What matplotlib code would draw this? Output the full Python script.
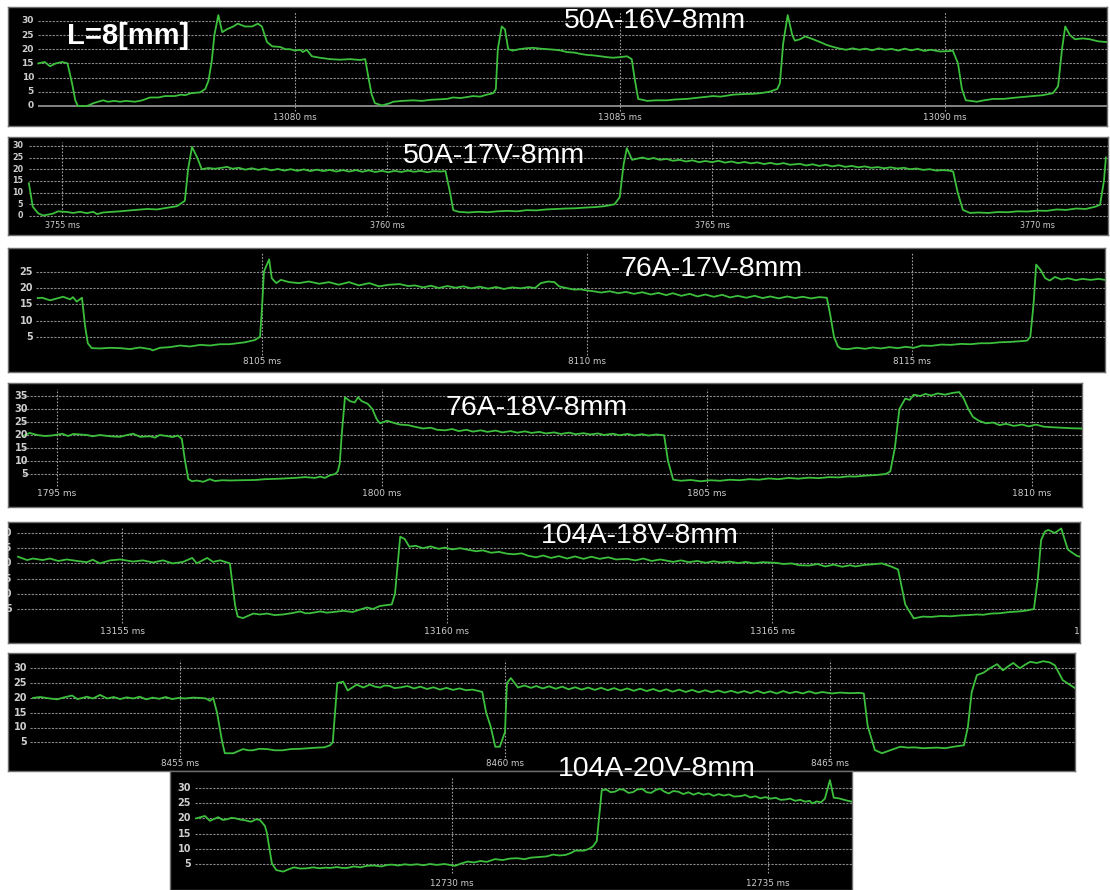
import matplotlib
matplotlib.use('Agg')
import matplotlib.pyplot as plt

# ---------------- data ----------------
P1_T = [13076.05, 13076.15, 13076.23, 13076.32, 13076.42, 13076.50, 13076.57, 13076.62, 13076.66, 13076.80,
        13076.90, 13076.97, 13077.05, 13077.12, 13077.22, 13077.31, 13077.40, 13077.54, 13077.65, 13077.77,
        13077.90, 13078.00, 13078.15, 13078.25, 13078.31, 13078.40, 13078.54, 13078.62, 13078.67, 13078.72,
        13078.76, 13078.82, 13078.88, 13078.95, 13079.05, 13079.12, 13079.23, 13079.34, 13079.43, 13079.49,
        13079.57, 13079.65, 13079.77, 13079.85, 13079.92, 13080.00, 13080.08, 13080.12, 13080.18, 13080.26,
        13080.38, 13080.54, 13080.69, 13080.85, 13081.00, 13081.08, 13081.13, 13081.18, 13081.23, 13081.34,
        13081.46, 13081.51, 13081.65, 13081.82, 13081.95, 13082.10, 13082.34, 13082.43, 13082.55, 13082.74,
        13082.85, 13082.95, 13083.05, 13083.09, 13083.12, 13083.18, 13083.23, 13083.28, 13083.35, 13083.45,
        13083.55, 13083.66, 13083.77, 13083.88, 13084.00, 13084.10, 13084.18, 13084.30, 13084.40, 13084.49,
        13084.60, 13084.70, 13084.80, 13084.89, 13085.00, 13085.11, 13085.18, 13085.23, 13085.28, 13085.42,
        13085.55, 13085.72, 13085.85, 13086.03, 13086.23, 13086.43, 13086.55, 13086.74, 13086.90, 13087.05,
        13087.15, 13087.30, 13087.42, 13087.46, 13087.51, 13087.58, 13087.65, 13087.69, 13087.77, 13087.85,
        13087.97, 13088.08, 13088.18, 13088.28, 13088.38, 13088.48, 13088.58, 13088.68, 13088.78, 13088.88,
        13088.98, 13089.08, 13089.18, 13089.28, 13089.38, 13089.48, 13089.58, 13089.68, 13089.78, 13089.92,
        13090.05, 13090.12, 13090.20, 13090.26, 13090.32, 13090.40, 13090.49, 13090.60, 13090.74, 13090.90,
        13091.11, 13091.35, 13091.50, 13091.66, 13091.74, 13091.80, 13091.85, 13091.92, 13092.00, 13092.12,
        13092.23, 13092.35, 13092.49]
P1_V = [15.0, 15.5, 14.0, 15.0, 15.5, 15.0, 8.0, 2.0, 0.0, 0.0,
        1.0, 1.5, 2.0, 1.5, 1.8, 1.5, 1.8, 1.5, 2.0, 3.0,
        3.0, 3.5, 3.5, 4.0, 3.8, 4.5, 4.8, 6.0, 9.0, 16.0,
        25.0, 32.0, 26.0, 27.0, 28.0, 29.0, 28.0, 28.0, 29.0, 28.0,
        22.5, 21.0, 20.8, 20.0, 20.0, 19.5, 19.8, 19.0, 19.8, 17.5,
        17.0, 16.5, 16.3, 16.5, 16.2, 16.5, 10.0, 4.0, 1.0, 0.2,
        1.0, 1.5, 1.8, 2.0, 1.8, 2.2, 2.5, 3.0, 2.8, 3.5,
        3.3, 4.0, 4.5, 6.0, 20.0, 28.0, 27.0, 20.0, 19.5, 20.0,
        20.3, 20.5, 20.2, 20.0, 19.8, 19.5, 19.0, 18.8, 18.3, 18.0,
        17.8, 17.5, 17.2, 17.0, 17.2, 17.5, 16.5, 9.0, 2.5, 1.8,
        2.0, 2.0, 2.3, 2.5, 3.0, 3.5, 3.3, 4.0, 4.2, 4.3,
        4.5, 5.0, 6.0, 8.0, 22.0, 32.0, 25.0, 23.0, 23.5, 24.5,
        23.5, 22.5, 21.5, 20.8, 20.2, 19.8, 20.3, 19.8, 20.2, 19.6,
        20.3, 19.8, 20.1, 19.5, 20.2, 19.6, 20.1, 19.4, 19.8, 19.2,
        19.3, 19.5, 15.0, 6.0, 2.0, 1.8, 1.5, 2.0, 2.5, 2.5,
        3.0, 3.5, 3.8, 4.5, 7.0, 20.0, 28.0, 25.0, 23.5, 23.8,
        23.5, 22.8, 22.5]

P2_T = [3754.49, 3754.55, 3754.63, 3754.71, 3754.86, 3754.94, 3755.08, 3755.17, 3755.28, 3755.38,
        3755.48, 3755.54, 3755.63, 3755.89, 3756.09, 3756.31, 3756.46, 3756.62, 3756.77, 3756.89,
        3756.94, 3757.00, 3757.08, 3757.15, 3757.25, 3757.35, 3757.43, 3757.54, 3757.62, 3757.72,
        3757.82, 3757.92, 3758.02, 3758.12, 3758.22, 3758.32, 3758.42, 3758.52, 3758.62, 3758.72,
        3758.82, 3758.92, 3759.02, 3759.12, 3759.22, 3759.32, 3759.42, 3759.52, 3759.62, 3759.72,
        3759.82, 3759.92, 3760.02, 3760.12, 3760.22, 3760.32, 3760.42, 3760.52, 3760.62, 3760.72,
        3760.82, 3760.90, 3760.97, 3761.02, 3761.10, 3761.25, 3761.40, 3761.55, 3761.70, 3761.85,
        3762.00, 3762.15, 3762.30, 3762.45, 3762.60, 3762.75, 3762.90, 3763.05, 3763.20, 3763.35,
        3763.50, 3763.58, 3763.64, 3763.69, 3763.77, 3763.85, 3763.93, 3764.02, 3764.10, 3764.20,
        3764.30, 3764.40, 3764.50, 3764.60, 3764.70, 3764.80, 3764.90, 3765.00, 3765.10, 3765.20,
        3765.30, 3765.40, 3765.50, 3765.60, 3765.70, 3765.80, 3765.90, 3766.00, 3766.10, 3766.20,
        3766.35, 3766.45, 3766.55, 3766.65, 3766.75, 3766.85, 3766.95, 3767.05, 3767.15, 3767.25,
        3767.35, 3767.45, 3767.55, 3767.65, 3767.75, 3767.85, 3767.95, 3768.05, 3768.15, 3768.25,
        3768.35, 3768.45, 3768.55, 3768.65, 3768.71, 3768.78, 3768.86, 3768.97, 3769.10, 3769.25,
        3769.40, 3769.55, 3769.70, 3769.85, 3770.00, 3770.15, 3770.30, 3770.45, 3770.60, 3770.75,
        3770.90, 3770.97, 3771.03, 3771.06]
P2_V = [14.0, 4.0, 1.2, 0.2, 1.0, 2.0, 1.7, 1.3, 1.8, 1.2,
        1.8, 0.8, 1.5, 2.0, 2.5, 3.0, 2.8, 3.5, 4.2, 6.5,
        20.0, 29.5, 25.0, 20.0, 20.5, 20.2, 20.5, 21.0, 20.2, 20.6,
        19.8, 20.4, 19.7, 20.3, 19.5, 20.1, 19.4, 20.0, 19.3, 19.9,
        19.2, 19.8, 19.2, 19.7, 19.0, 19.6, 19.0, 19.6, 18.9, 19.5,
        18.8, 19.3, 18.7, 19.3, 18.8, 19.4, 18.9, 19.3, 18.7, 19.2,
        19.0, 19.2, 10.0, 2.5, 1.8, 1.5, 1.8, 1.6, 2.0, 2.2,
        2.0, 2.5, 2.4, 2.8, 3.0, 3.2, 3.3, 3.6, 3.8, 4.2,
        5.0, 8.0, 22.0, 29.0, 24.0, 24.5, 25.0, 24.3, 24.8, 24.0,
        24.4, 23.6, 24.0, 23.3, 23.8, 23.0, 23.5, 23.0, 23.6, 22.8,
        23.3, 22.6, 23.1, 22.5, 22.9, 22.2, 22.7, 22.1, 22.6, 21.9,
        22.3, 21.6, 22.1, 21.4, 21.9, 21.2, 21.7, 21.0, 21.4, 20.8,
        21.2, 20.6, 20.9, 20.4, 20.8, 20.3, 20.6, 20.0, 20.3, 19.7,
        20.0, 19.4, 19.6, 19.4, 19.0, 10.0, 2.6, 1.3, 1.5, 1.3,
        1.7, 1.6, 2.0, 1.9, 2.3, 2.2, 2.8, 2.6, 3.2, 3.0,
        4.0, 4.8, 15.0, 25.0]

P3_T = [8101.55, 8101.62, 8101.74, 8101.89, 8101.94, 8102.05, 8102.09, 8102.15, 8102.23, 8102.28,
        8102.32, 8102.38, 8102.51, 8102.66, 8102.82, 8102.97, 8103.12, 8103.28, 8103.32, 8103.43,
        8103.58, 8103.74, 8103.89, 8104.05, 8104.20, 8104.35, 8104.50, 8104.58, 8104.74, 8104.89,
        8104.97, 8105.00, 8105.03, 8105.06, 8105.11, 8105.15, 8105.22, 8105.29, 8105.42, 8105.57,
        8105.72, 8105.88, 8106.03, 8106.18, 8106.34, 8106.49, 8106.65, 8106.80, 8106.95, 8107.12,
        8107.25, 8107.35, 8107.48, 8107.60, 8107.72, 8107.85, 8107.98, 8108.10, 8108.22, 8108.35,
        8108.48, 8108.60, 8108.72, 8108.85, 8108.98, 8109.10, 8109.20, 8109.29, 8109.40, 8109.50,
        8109.57, 8109.68, 8109.80, 8109.90, 8109.98, 8110.10, 8110.22, 8110.35, 8110.48, 8110.60,
        8110.72, 8110.85, 8110.98, 8111.10, 8111.22, 8111.32, 8111.45, 8111.58, 8111.70, 8111.82,
        8111.95, 8112.08, 8112.20, 8112.32, 8112.45, 8112.58, 8112.70, 8112.82, 8112.95, 8113.08,
        8113.20, 8113.32, 8113.45, 8113.57, 8113.69, 8113.74, 8113.80, 8113.86, 8113.91, 8114.02,
        8114.15, 8114.28, 8114.40, 8114.52, 8114.65, 8114.78, 8114.90, 8115.03, 8115.15, 8115.30,
        8115.45, 8115.60, 8115.75, 8115.90, 8116.05, 8116.20, 8116.35, 8116.50, 8116.65, 8116.77,
        8116.82, 8116.87, 8116.91, 8116.98, 8117.05, 8117.12, 8117.20, 8117.30, 8117.40, 8117.52,
        8117.62, 8117.75, 8117.87, 8117.97]
P3_V = [16.9, 17.0, 16.2, 17.0, 17.3, 16.5, 17.2, 15.8, 17.0, 8.0,
        3.0, 1.5, 1.4, 1.6, 1.5, 1.2, 1.7, 1.2, 0.8, 1.6,
        1.8, 2.3, 2.0, 2.5, 2.3, 2.7, 2.7, 2.9, 3.3, 4.0,
        5.0, 14.0, 25.0, 26.5, 28.8, 23.0, 21.5, 22.5, 21.8, 21.5,
        22.0, 21.3, 21.8, 21.0, 21.8, 20.8, 21.5, 20.5, 21.0, 21.2,
        20.6, 20.8, 20.2, 20.7, 20.0, 20.6, 20.1, 20.5, 19.9, 20.4,
        19.8, 20.3, 19.7, 20.2, 19.9, 20.3, 20.0, 21.5, 22.0, 21.8,
        20.5, 20.0, 19.5, 19.6, 19.3, 19.0, 18.6, 19.0, 18.4, 18.8,
        18.2, 18.7, 18.0, 18.5, 17.8, 18.4, 17.6, 18.2, 17.4, 18.0,
        17.3, 17.9, 17.1, 17.6, 17.0, 17.6, 16.9, 17.4, 16.8, 17.4,
        16.9, 17.3, 16.8, 17.2, 17.0, 12.0, 5.0, 2.0, 1.3, 1.2,
        1.6, 1.3, 1.7, 1.4, 1.8, 1.5, 1.9, 1.6, 2.3, 2.2,
        2.6, 2.5, 2.8, 2.7, 3.0, 3.0, 3.3, 3.4, 3.6, 3.8,
        5.0, 15.0, 27.2, 25.5, 23.0, 22.3, 23.4, 22.6, 23.0, 22.4,
        22.8, 22.5, 22.8, 22.5]

P4_T = [1794.48, 1794.58, 1794.69, 1794.82, 1794.92, 1795.02, 1795.08, 1795.17, 1795.25, 1795.35,
        1795.46, 1795.55, 1795.66, 1795.82, 1795.97, 1796.08, 1796.17, 1796.28, 1796.43, 1796.51,
        1796.58, 1796.69, 1796.78, 1796.86, 1796.92, 1796.97, 1797.02, 1797.08, 1797.15, 1797.25,
        1797.35, 1797.43, 1797.54, 1797.66, 1797.82, 1798.05, 1798.20, 1798.43, 1798.66, 1798.82,
        1798.97, 1799.05, 1799.12, 1799.20, 1799.28, 1799.32, 1799.35, 1799.38, 1799.43, 1799.51,
        1799.58, 1799.63, 1799.69, 1799.78, 1799.85, 1799.92, 1799.97, 1800.08, 1800.20, 1800.28,
        1800.40, 1800.50, 1800.63, 1800.75, 1800.85, 1800.97, 1801.08, 1801.18, 1801.30, 1801.40,
        1801.52, 1801.62, 1801.75, 1801.85, 1801.98, 1802.08, 1802.20, 1802.30, 1802.42, 1802.52,
        1802.65, 1802.75, 1802.88, 1802.98, 1803.10, 1803.20, 1803.32, 1803.42, 1803.55, 1803.65,
        1803.78, 1803.88, 1804.00, 1804.10, 1804.22, 1804.34, 1804.40, 1804.48, 1804.60, 1804.75,
        1804.90, 1805.05, 1805.20, 1805.35, 1805.50, 1805.65, 1805.80, 1805.95, 1806.10, 1806.25,
        1806.40, 1806.57, 1806.72, 1806.88, 1807.03, 1807.18, 1807.28, 1807.45, 1807.60, 1807.75,
        1807.82, 1807.89, 1807.96, 1808.05, 1808.12, 1808.18, 1808.28, 1808.36, 1808.45, 1808.55,
        1808.66, 1808.78, 1808.88, 1808.95, 1809.02, 1809.09, 1809.18, 1809.29, 1809.40, 1809.50,
        1809.60, 1809.72, 1809.85, 1809.95, 1810.06, 1810.18, 1810.30, 1810.45, 1810.60, 1810.77]
P4_V = [19.6, 20.8, 20.0, 19.6, 19.8, 20.2, 20.5, 19.6, 20.4, 20.2,
        20.0, 19.5, 20.0, 19.5, 19.3, 20.0, 20.5, 19.3, 19.5, 19.0,
        20.0, 19.6, 19.2, 19.8, 18.5, 10.0, 3.0, 2.2, 2.5, 2.0,
        3.0, 2.3, 2.6, 2.5, 2.6, 2.7, 3.0, 3.2, 3.5, 3.8,
        3.5, 4.0, 3.5, 4.5, 5.0, 6.0, 9.0, 20.0, 34.5, 33.0,
        32.5, 34.5, 33.0, 32.0, 30.0, 26.0, 24.5, 25.5, 24.5, 24.0,
        23.8, 23.2, 22.5, 22.8, 22.0, 21.8, 22.3, 21.5, 22.0, 21.3,
        21.8, 21.2, 21.7, 21.0, 21.5, 20.9, 21.4, 20.8, 21.2, 20.6,
        21.0, 20.4, 20.9, 20.3, 20.7, 20.2, 20.6, 20.0, 20.5, 19.9,
        20.4, 19.8, 20.3, 19.8, 20.2, 19.9, 10.0, 2.8, 2.4, 2.7,
        2.2, 2.6, 2.4, 2.8, 2.6, 3.0, 2.8, 3.3, 3.0, 3.5,
        3.2, 3.6, 3.4, 3.8, 3.7, 4.1, 4.0, 4.4, 4.6, 5.0,
        6.0, 15.0, 30.0, 34.0, 33.5, 35.5, 35.0, 35.8, 35.2, 36.0,
        35.5, 36.2, 36.5, 34.0, 30.0, 27.0, 25.5, 24.5, 24.8, 23.8,
        24.3, 23.5, 24.0, 23.3, 24.0, 23.2, 23.0, 22.8, 22.6, 22.5]

P5_T = [13153.40, 13153.54, 13153.63, 13153.78, 13153.89, 13154.02, 13154.15, 13154.31, 13154.46, 13154.55,
        13154.66, 13154.82, 13154.97, 13155.17, 13155.32, 13155.48, 13155.63, 13155.78, 13155.94, 13156.08,
        13156.15, 13156.31, 13156.40, 13156.51, 13156.62, 13156.66, 13156.74, 13156.78, 13156.86, 13157.02,
        13157.12, 13157.23, 13157.35, 13157.48, 13157.63, 13157.74, 13157.82, 13157.89, 13158.05, 13158.15,
        13158.25, 13158.40, 13158.55, 13158.66, 13158.77, 13158.86, 13158.97, 13159.15, 13159.20, 13159.28,
        13159.35, 13159.42, 13159.52, 13159.63, 13159.75, 13159.87, 13159.97, 13160.08, 13160.20, 13160.32,
        13160.45, 13160.55, 13160.68, 13160.80, 13160.92, 13161.03, 13161.15, 13161.25, 13161.37, 13161.48,
        13161.60, 13161.72, 13161.85, 13161.97, 13162.10, 13162.22, 13162.35, 13162.48, 13162.60, 13162.77,
        13162.90, 13163.02, 13163.15, 13163.28, 13163.48, 13163.60, 13163.72, 13163.85, 13163.98, 13164.10,
        13164.22, 13164.35, 13164.48, 13164.60, 13164.72, 13164.85, 13165.05, 13165.18, 13165.30, 13165.42,
        13165.57, 13165.70, 13165.82, 13165.95, 13166.08, 13166.20, 13166.28, 13166.42, 13166.55, 13166.69,
        13166.83, 13166.94, 13167.05, 13167.18, 13167.32, 13167.45, 13167.60, 13167.75, 13167.90, 13168.02,
        13168.15, 13168.25, 13168.37, 13168.50, 13168.65, 13168.80, 13168.92, 13169.03, 13169.09, 13169.14,
        13169.20, 13169.25, 13169.35, 13169.45, 13169.55, 13169.62, 13169.69, 13169.74]
P5_V = [22.2, 21.1, 21.6, 21.1, 21.6, 20.8, 21.3, 20.8, 20.4, 21.2,
        20.0, 21.0, 21.3, 20.6, 21.0, 20.3, 21.0, 20.0, 20.5, 21.8,
        20.0, 21.8, 20.5, 21.0, 20.3, 20.0, 6.2, 2.5, 2.0, 3.5,
        3.2, 3.5, 3.0, 3.2, 3.7, 4.2, 3.6, 3.6, 4.2, 3.8,
        4.0, 4.4, 4.0, 4.8, 5.5, 5.0, 6.0, 6.5, 10.0, 28.8,
        28.0, 25.5, 25.8, 25.0, 25.6, 24.8, 25.2, 24.6, 25.0, 24.5,
        24.0, 24.3, 23.5, 23.8, 23.2, 23.0, 23.3, 22.5, 22.0, 22.6,
        21.8, 22.4, 21.6, 22.3, 21.5, 22.2, 21.5, 22.0, 21.3, 21.5,
        21.0, 21.6, 20.8, 21.3, 20.5, 21.0, 20.4, 20.8, 20.2, 20.7,
        20.3, 20.6, 20.1, 20.5, 20.0, 20.4, 20.2, 19.8, 20.0, 19.4,
        19.3, 19.8, 19.0, 19.6, 18.9, 19.4, 19.0, 19.5, 19.7, 20.0,
        19.0, 18.0, 6.5, 1.9, 2.5, 2.4, 2.7, 2.6, 2.9, 3.0,
        3.2, 3.1, 3.5, 3.6, 4.0, 4.2, 4.5, 5.0, 15.0, 27.7,
        30.5, 31.0, 30.0, 31.5, 24.6, 23.5, 22.5, 22.2]

P6_T = [8452.74, 8452.85, 8453.00, 8453.11, 8453.22, 8453.34, 8453.42, 8453.50, 8453.57, 8453.66,
        8453.77, 8453.88, 8453.98, 8454.08, 8454.18, 8454.28, 8454.38, 8454.48, 8454.58, 8454.68,
        8454.78, 8454.88, 8454.98, 8455.08, 8455.20, 8455.31, 8455.40, 8455.46, 8455.51, 8455.57,
        8455.65, 8455.69, 8455.82, 8455.97, 8456.05, 8456.12, 8456.22, 8456.34, 8456.46, 8456.58,
        8456.70, 8456.85, 8456.98, 8457.11, 8457.22, 8457.31, 8457.35, 8457.42, 8457.51, 8457.58,
        8457.65, 8457.72, 8457.82, 8457.92, 8458.00, 8458.08, 8458.15, 8458.23, 8458.30, 8458.38,
        8458.50, 8458.60, 8458.70, 8458.80, 8458.90, 8459.00, 8459.10, 8459.20, 8459.30, 8459.40,
        8459.50, 8459.60, 8459.65, 8459.71, 8459.78, 8459.85, 8459.92, 8460.00, 8460.03, 8460.09,
        8460.20, 8460.30, 8460.40, 8460.48, 8460.58, 8460.68, 8460.78, 8460.88, 8460.98, 8461.08,
        8461.18, 8461.28, 8461.38, 8461.48, 8461.58, 8461.68, 8461.78, 8461.88, 8461.98, 8462.08,
        8462.18, 8462.28, 8462.38, 8462.48, 8462.58, 8462.68, 8462.78, 8462.88, 8462.98, 8463.08,
        8463.18, 8463.28, 8463.38, 8463.48, 8463.58, 8463.68, 8463.78, 8463.88, 8463.98, 8464.08,
        8464.18, 8464.28, 8464.38, 8464.48, 8464.58, 8464.68, 8464.78, 8464.88, 8465.03, 8465.15,
        8465.30, 8465.45, 8465.52, 8465.58, 8465.69, 8465.80, 8465.95, 8466.08, 8466.20, 8466.30,
        8466.43, 8466.55, 8466.65, 8466.77, 8466.90, 8467.06, 8467.12, 8467.18, 8467.26, 8467.36,
        8467.46, 8467.57, 8467.66, 8467.75, 8467.82, 8467.92, 8468.00, 8468.08, 8468.18, 8468.28,
        8468.38, 8468.46, 8468.58, 8468.77]
P6_V = [20.0, 20.3, 19.8, 19.5, 20.2, 20.8, 19.6, 20.0, 20.4, 19.8,
        21.0, 19.8, 20.3, 19.6, 20.2, 19.8, 20.4, 19.5, 20.1, 19.7,
        20.3, 19.6, 20.0, 19.8, 20.1, 20.0, 19.8, 19.0, 20.0, 15.0,
        5.0, 1.3, 1.3, 2.7, 2.3, 2.3, 2.8, 2.7, 2.3, 2.3,
        2.7, 2.8, 3.0, 3.2, 3.3, 4.0, 5.0, 25.0, 25.5, 22.5,
        23.5, 24.5, 23.5, 24.5, 23.8, 23.5, 24.2, 24.0, 23.3, 23.5,
        24.0, 23.2, 23.8, 23.0, 23.6, 22.8, 23.4, 22.7, 23.2, 22.6,
        22.8, 22.3, 22.0, 15.0, 10.3, 3.5, 3.5, 8.5, 25.0, 26.7,
        23.5, 24.2, 23.4, 24.0, 23.2, 23.9, 23.1, 23.8, 22.9, 23.6,
        22.8, 23.5, 22.7, 23.4, 22.6, 23.3, 22.5, 23.2, 22.4, 23.1,
        22.3, 23.0, 22.2, 22.9, 22.1, 22.8, 22.0, 22.7, 21.9, 22.6,
        21.9, 22.5, 21.8, 22.4, 21.7, 22.3, 21.6, 22.4, 21.6, 22.2,
        21.5, 22.3, 21.6, 22.1, 21.5, 22.2, 21.5, 22.0, 21.5, 21.8,
        21.6, 21.7, 21.5, 10.5, 2.4, 1.3, 2.5, 3.5, 3.2, 3.3,
        3.0, 3.1, 3.2, 3.0, 3.5, 4.0, 10.0, 22.0, 27.7, 28.5,
        30.0, 31.4, 29.3, 30.8, 31.8, 30.0, 31.2, 32.2, 31.8, 32.4,
        32.0, 31.0, 26.0, 23.3]

P7_T = [12725.95, 12726.09, 12726.17, 12726.30, 12726.37, 12726.44, 12726.51, 12726.58, 12726.65, 12726.72,
        12726.82, 12726.90, 12726.96, 12727.04, 12727.07, 12727.15, 12727.22, 12727.33, 12727.42, 12727.50,
        12727.60, 12727.71, 12727.80, 12727.90, 12728.00, 12728.07, 12728.18, 12728.26, 12728.34, 12728.45,
        12728.55, 12728.65, 12728.77, 12728.88, 12728.98, 12729.05, 12729.15, 12729.25, 12729.34, 12729.45,
        12729.55, 12729.65, 12729.76, 12729.88, 12730.05, 12730.15, 12730.25, 12730.35, 12730.45, 12730.55,
        12730.68, 12730.80, 12730.92, 12731.03, 12731.15, 12731.25, 12731.38, 12731.50, 12731.60, 12731.70,
        12731.80, 12731.88, 12731.95, 12732.09, 12732.17, 12732.23, 12732.29, 12732.37, 12732.44, 12732.51,
        12732.58, 12732.65, 12732.72, 12732.79, 12732.86, 12732.93, 12733.01, 12733.08, 12733.15, 12733.22,
        12733.29, 12733.36, 12733.43, 12733.50, 12733.58, 12733.66, 12733.74, 12733.82, 12733.90, 12733.98,
        12734.06, 12734.14, 12734.22, 12734.30, 12734.38, 12734.46, 12734.56, 12734.64, 12734.72, 12734.80,
        12734.88, 12734.96, 12735.04, 12735.12, 12735.20, 12735.27, 12735.35, 12735.43, 12735.51, 12735.59,
        12735.66, 12735.70, 12735.77, 12735.84, 12735.90, 12735.98, 12736.04, 12736.12, 12736.19, 12736.26,
        12736.33]
P7_V = [20.0, 20.8, 19.2, 20.4, 19.5, 19.7, 20.2, 20.0, 19.6, 19.4,
        18.9, 19.7, 19.5, 17.5, 15.3, 5.2, 3.0, 2.5, 3.3, 3.9,
        3.5, 3.6, 3.9, 3.6, 3.8, 3.7, 4.0, 3.7, 3.7, 4.2,
        3.9, 4.4, 4.5, 4.2, 4.7, 4.8, 4.5, 4.9, 4.7, 4.9,
        4.6, 5.0, 4.7, 5.0, 4.4, 5.2, 5.8, 5.5, 6.0, 5.7,
        6.6, 6.3, 6.8, 6.9, 6.6, 7.1, 7.3, 7.5, 8.1, 7.8,
        8.0, 8.6, 9.4, 9.4, 10.0, 10.8, 12.5, 29.3, 29.5, 28.6,
        28.8, 29.6, 29.4, 28.4, 28.6, 29.5, 29.7, 28.6, 28.4, 29.3,
        29.8, 28.8, 28.2, 29.0, 28.8, 28.0, 28.6, 27.8, 28.4, 27.8,
        28.2, 27.4, 28.0, 27.5, 27.9, 27.2, 27.3, 27.7, 26.9, 27.3,
        26.6, 27.0, 26.5, 26.8, 26.1, 26.2, 26.5, 25.8, 26.1, 25.5,
        25.8, 24.9, 25.6, 25.3, 26.5, 32.6, 26.8, 26.6, 26.2, 25.8,
        25.5]

P1_XTICKS = [13080, 13085, 13090]
P2_XTICKS = [3755, 3760, 3765, 3770]
P3_XTICKS = [8105, 8110, 8115]
P4_XTICKS = [1795, 1800, 1805, 1810]
P5_XTICKS = [13155, 13160, 13165, 13170]
P6_XTICKS = [8455, 8460, 8465]
P7_XTICKS = [12730, 12735]

P1_YTICKS = [0, 5, 10, 15, 20, 25, 30]
P2_YTICKS = [0, 5, 10, 15, 20, 25, 30]
P3_YTICKS = [5, 10, 15, 20, 25]
P4_YTICKS = [5, 10, 15, 20, 25, 30, 35]
P5_YTICKS = [5, 10, 15, 20, 25, 30]
P6_YTICKS = [5, 10, 15, 20, 25, 30]
P7_YTICKS = [5, 10, 15, 20, 25, 30]

TITLES = ['50A-16V-8mm', '50A-17V-8mm', '76A-17V-8mm', '76A-18V-8mm', '104A-18V-8mm', '104A-20V-8mm']

# ---------------- layout (pixels) ----------------
W, H = 1110, 890
fig = plt.figure(figsize=(W / 100, H / 100), dpi=100)
fig.patch.set_facecolor('white')

GREEN = '#3cbf3c'
GRID = '#8a8a8a'
LAB = '#cdcdcd'

panels = [
    dict(t=P1_T, v=P1_V, xt=P1_XTICKS, yt=P1_YTICKS, box=(8, 7, 1107, 126), xcal=(13080, 295, 65.0),
         ycal=(106, 2.84), gx=38, ylx=34, xly=118, vl=(12, 111), yfs=6.5, xfs=6.3, zero_solid=True),
    dict(t=P2_T, v=P2_V, xt=P2_XTICKS, yt=P2_YTICKS, box=(8, 137, 1108, 235), xcal=(3755, 62, 65.0),
         ycal=(216, 2.34), gx=29, ylx=23, xly=226, vl=(142, 216), yfs=5.8, xfs=5.8, zero_solid=False),
    dict(t=P3_T, v=P3_V, xt=P3_XTICKS, yt=P3_YTICKS, box=(8, 248, 1105, 372), xcal=(8105, 262, 65.0),
         ycal=(353, 3.25), gx=36, ylx=33, xly=362, vl=(253, 355), yfs=7, xfs=6.3, zero_solid=False),
    dict(t=P4_T, v=P4_V, xt=P4_XTICKS, yt=P4_YTICKS, box=(8, 383, 1082, 507), xcal=(1795, 57, 65.0),
         ycal=(487, 2.6), gx=23, ylx=28, xly=493, vl=(389, 486), yfs=7, xfs=6.5, zero_solid=False),
    dict(t=P5_T, v=P5_V, xt=P5_XTICKS, yt=P5_YTICKS, box=(8, 522, 1080, 643), xcal=(13155, 122, 65.0),
         ycal=(624.2, 3.04), gx=17, ylx=12, xly=632, vl=(527, 623), yfs=7, xfs=6.5, zero_solid=False),
    dict(t=P6_T, v=P6_V, xt=P6_XTICKS, yt=P6_YTICKS, box=(8, 653, 1075, 771), xcal=(8455, 180, 65.0),
         ycal=(757.1, 2.96), gx=30, ylx=27, xly=763, vl=(660, 757), yfs=7, xfs=6.3, zero_solid=False),
    dict(t=P7_T, v=P7_V, xt=P7_XTICKS, yt=P7_YTICKS, box=(170, 771, 852, 890), xcal=(12730, 452, 63.2),
         ycal=(879.2, 3.04), gx=195, ylx=191, xly=884, vl=(778, 873), yfs=7, xfs=6.3, zero_solid=False),
]


def draw(p):
    x0, y0, x1, y1 = p['box']
    ax = fig.add_axes([x0 / W, 1 - y1 / H, (x1 - x0) / W, (y1 - y0) / H])
    ax.set_facecolor('black')
    tt, tp, ppm = p['xcal']
    xl = (tt + (x0 - tp) / ppm, tt + (x1 - tp) / ppm)
    ax.set_xlim(*xl)
    zp, ppu = p['ycal']
    yl = ((zp - y1) / ppu, (zp - y0) / ppu)
    ax.set_ylim(*yl)
    ax.set_xticks([])
    ax.set_yticks([])
    for s in ax.spines.values():
        s.set_color('#6e6e6e')
        s.set_linewidth(1.0)
    gx = tt + (p['gx'] - tp) / ppm
    hy = [y for y in p['yt'] if not (p['zero_solid'] and y == 0)]
    ax.hlines(hy, gx, xl[1], colors=GRID, linestyles=(0, (2.0, 1.2)), linewidth=0.8, zorder=1)
    if p['zero_solid']:
        ax.hlines([0], gx, xl[1], colors='#9a9a9a', linewidth=1.2, zorder=1)
    vt, vb = p['vl']
    ax.vlines(p['xt'], (zp - vb) / ppu, (zp - vt) / ppu, colors='#a0a0a0',
              linestyles=(0, (1.5, 1.5)), linewidth=0.8, zorder=1)
    ax.plot(p['t'], p['v'], color=GREEN, linewidth=1.3, zorder=3, solid_joinstyle='round')
    lx = tt + (p['ylx'] - tp) / ppm
    for y in p['yt']:
        ax.text(lx, y, str(y), ha='right', va='center', color=LAB, fontsize=p['yfs'],
                fontweight='bold', family='DejaVu Sans', clip_on=True, zorder=4)
    ly = (zp - p['xly']) / ppu
    for x in p['xt']:
        ax.text(x, ly, f'{x} ms', ha='center', va='center', color=LAB, fontsize=p['xfs'],
                family='DejaVu Sans', clip_on=True, zorder=4)
    return ax


for p in panels:
    draw(p)

title_pos = [(655, 21), (494, 156), (712, 269), (537, 408), (640, 536), (657, 769)]
for txt, (tx, ty) in zip(TITLES, title_pos):
    fig.text(tx / W, 1 - ty / H, txt, ha='center', va='center', color='white',
             fontsize=20.5, family='Liberation Sans', zorder=10)

fig.text(128 / W, 1 - 36 / H, 'L=8[mm]', ha='center', va='center', color='white',
         fontsize=21, fontweight='bold', family='Liberation Sans', zorder=10)

fig.savefig('out.png', dpi=100, facecolor='white')
